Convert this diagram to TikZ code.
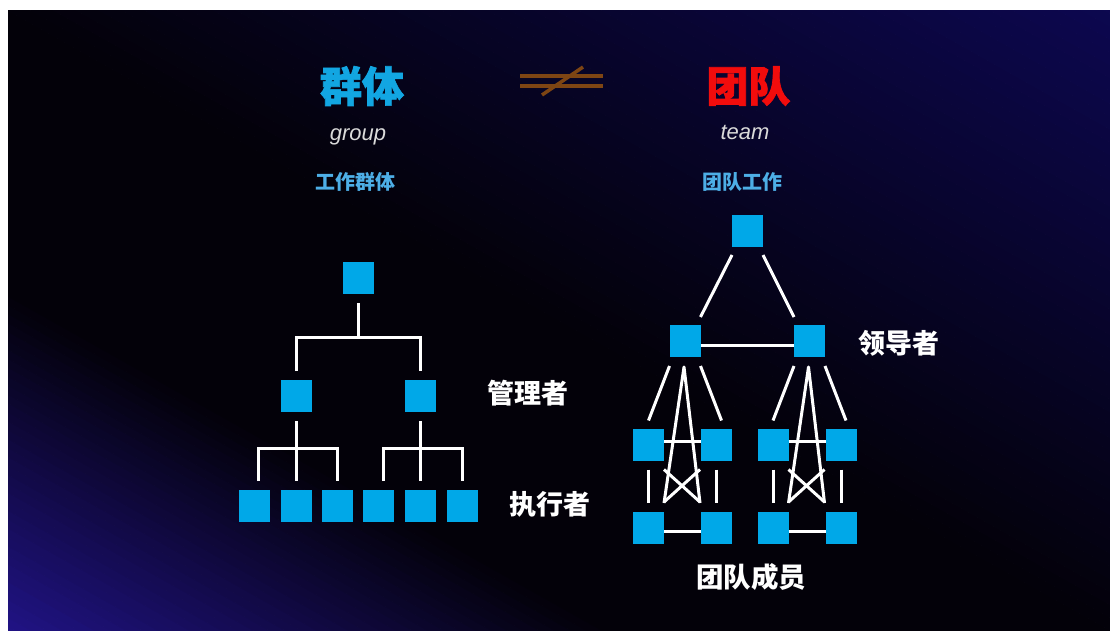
\documentclass[tikz,border=0pt]{standalone}
\usepackage{fontspec}
\setmainfont{Liberation Sans}
\newfontfamily\cjk{Noto Sans CJK SC}
\newfontfamily\cjkheavy{Noto Sans CJK SC}[BoldFeatures={FakeBold=1.6}]
\definecolor{bgP}{HTML}{22148C}
\definecolor{bgK}{HTML}{030109}
\definecolor{bgN}{HTML}{0D0852}
\definecolor{boxc}{HTML}{00A8E8}
\definecolor{titleblue}{HTML}{12A6E2}
\definecolor{titlered}{HTML}{F20C0C}
\definecolor{subblue}{HTML}{4DAEE6}
\definecolor{neqc}{HTML}{7E4513}
\definecolor{lightgrey}{HTML}{DADADA}
\begin{document}
\begin{tikzpicture}[x=1pt,y=-1pt,
  wire/.style={draw=white, line width=3pt},
  box/.style={fill=boxc, minimum width=31pt, minimum height=32pt, inner sep=0pt, outer sep=0pt},
  bigtitle/.style={font=\cjkheavy\bfseries\fontsize{42}{46}\selectfont, inner sep=0pt},
  engtext/.style={font=\itshape\fontsize{22}{24}\selectfont, text=lightgrey, inner sep=0pt},
  subtitle/.style={font=\cjk\bfseries\fontsize{20}{22}\selectfont, text=subblue, inner sep=0pt},
  rolelabel/.style={font=\cjk\bfseries\fontsize{27}{29}\selectfont, text=white, inner sep=0pt},
  neqline/.style={draw=neqc, line width=3.5pt}]

\useasboundingbox (0,0) rectangle (1110,631);
\fill[white] (0,0) rectangle (1110,631);

% background gradient
\begin{scope}
  \clip (8,11) rectangle (1110,631);
  \begin{scope}[shift={(559,321)}, rotate=60.64]
    \foreach \i in {0,...,39} {
      \pgfmathsetmacro\ua{-560+\i*7.785}
      \pgfmathsetmacro\ub{\ua+8.4}
      \pgfmathtruncatemacro\pc{(\i+0.5)*2.5}
      \fill[bgK!\pc!bgP] (\ua,-800) rectangle (\ub,800);
    }
    \fill[bgK] (-248.9,-800) rectangle (0.6,800);
    \foreach \i in {0,...,49} {
      \pgfmathsetmacro\ua{\i*11.2}
      \pgfmathsetmacro\ub{\ua+11.8}
      \pgfmathtruncatemacro\pc{(\i+0.5)*2}
      \fill[bgN!\pc!bgK] (\ua,-800) rectangle (\ub,800);
    }
  \end{scope}
\end{scope}

% titles
\node[bigtitle, text=titleblue] (tgroup) at (362,86) {群体};
\node[bigtitle, text=titlered] (tteam) at (748.5,86) {团队};
\node[engtext] (egroup) at (358,137) {group};
\node[engtext] (eteam) at (745,132) {team};
\node[subtitle] (sgroup) at (355,182) {工作群体};
\node[subtitle] (steam) at (742,182) {团队工作};

% not-equal sign
\draw[neqline] (520,76) -- (603,76);
\draw[neqline] (520,86) -- (603,86);
\draw[neqline] (542,95) -- (583,67);

% left tree
\node[box] (g0) at (358,278) {};
\node[box] (g1) at (296,396) {};
\node[box] (g2) at (420,396) {};
\node[box] (b1) at (254,506) {};
\node[box] (b2) at (296,506) {};
\node[box] (b3) at (337,506) {};
\node[box] (b4) at (378,506) {};
\node[box] (b5) at (420,506) {};
\node[box] (b6) at (462,506) {};
\coordinate (j0) at (358,337);
\coordinate (j1) at (296,448);
\coordinate (j2) at (420,448);
\draw[wire] ([yshift=-9pt]g0.south) -- (j0);
\draw[wire] ([yshift=9pt]g1.north) |- (j0) -| ([yshift=9pt]g2.north);
\draw[wire] ([yshift=-9pt]g1.south) -- ([yshift=9pt]b2.north);
\draw[wire] ([xshift=4pt,yshift=9pt]b1.north) |- (j1) -| ([yshift=9pt]b3.north);
\draw[wire] ([yshift=-9pt]g2.south) -- ([yshift=9pt]b5.north);
\draw[wire] ([xshift=5pt,yshift=9pt]b4.north) |- (j2) -| ([yshift=9pt]b6.north);

\node[rolelabel] (lmgr) at (528,393) {管理者};
\node[rolelabel] (lexe) at (550,504) {执行者};

% right network
\node[box] (t0) at (747.5,230.5) {};
\node[box] (L1) at (685,341) {};
\node[box] (L2) at (809.5,341) {};
\node[box] (A) at (648.5,444.5) {};
\node[box] (B) at (716.5,444.5) {};
\node[box] (A2) at (648.5,528) {};
\node[box] (B2) at (716.5,528) {};
\node[box] (C) at (773,444.5) {};
\node[box] (D) at (841,444.5) {};
\node[box] (C2) at (773,528) {};
\node[box] (D2) at (841,528) {};

\draw[wire] ([yshift=-8.5pt]t0.south west) -- ([yshift=8pt]L1.north east);
\draw[wire] ([yshift=-8.5pt]t0.south east) -- ([yshift=8pt]L2.north west);
\draw[wire] ([yshift=-4pt]L1.east) -- ([yshift=-4pt]L2.west);

\foreach \ld/\ma/\mb/\mc/\md in {L1/A/B/A2/B2, L2/C/D/C2/D2} {
  \draw[wire] ([yshift=-9pt]\ld.south west) -- ([yshift=8pt]\ma.north);
  \draw[wire] ([yshift=-9pt]\ld.south east) -- ([xshift=5pt,yshift=8pt]\mb.north);
  \draw[wire, line join=round] ([yshift=9pt]\mc.north east) -- ([xshift=-1pt,yshift=-10pt]\ld.south) -- ([xshift=-1pt,yshift=9pt]\md.north west);
  \draw[wire] ([yshift=-9pt]\ma.south east) -- ([xshift=-1pt,yshift=10pt]\md.north west);
  \draw[wire] ([xshift=-1pt,yshift=-9pt]\mb.south west) -- ([yshift=10pt]\mc.north east);
  \draw[wire] ([yshift=-9pt]\ma.south) -- ([yshift=9pt]\mc.north);
  \draw[wire] ([yshift=-9pt]\mb.south) -- ([yshift=9pt]\md.north);
  \draw[wire] ([yshift=3pt]\ma.east) -- ([yshift=3pt]\mb.west);
  \draw[wire] ([yshift=-3pt]\mc.east) -- ([yshift=-3pt]\md.west);
}

\node[rolelabel] (llead) at (899,343) {领导者};
\node[rolelabel, font=\cjk\bfseries\fontsize{27.5}{29}\selectfont] (lmem) at (751,577) {团队成员};
\end{tikzpicture}
\end{document}
